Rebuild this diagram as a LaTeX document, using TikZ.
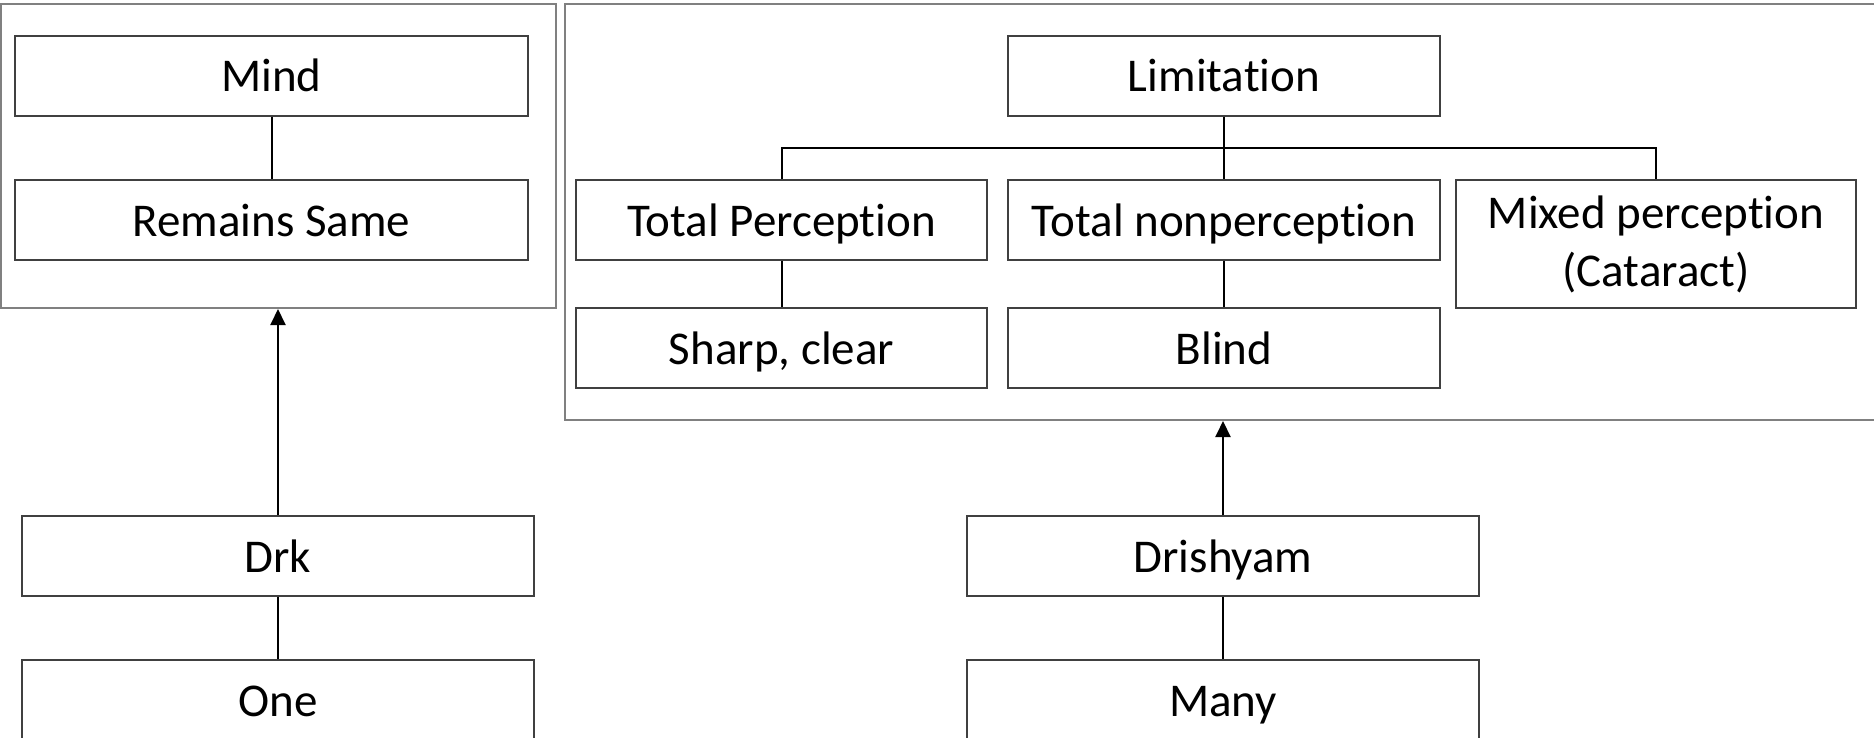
\documentclass[tikz,border=0pt]{standalone}
\usepackage{fontspec}
\setmainfont{Carlito}[Ligatures=NoCommon]
\usetikzlibrary{arrows.meta}

\begin{document}
\begin{tikzpicture}[x=0.5pt, y=-0.5pt,
    box/.style={draw=black!75, line width=0.75pt, minimum height=40pt, inner sep=2pt,
        align=center, font=\fontsize{23.5}{29}\selectfont},
    oneline/.style={box, text height=16pt, text depth=0pt},
    frame/.style={draw=black!50, line width=1pt, inner sep=0pt},
    link/.style={line width=1pt},
    up/.style={link, -{Triangle[length=8pt,width=7.5pt]}}]
    \useasboundingbox (0,0) rectangle (1874,738);
    % the two groups
    \node[frame, minimum width=277.5pt, minimum height=152pt] (leftframe) at (278.5,156) {};
    \node[frame, minimum width=717.5pt, minimum height=208pt] (rightframe) at (1282.5,212) {};
    % left side
    \node[oneline, minimum width=256.5pt] (mind) at (271.5,76) {Mind};
    \node[oneline, minimum width=256.5pt] (same) at (271.5,220) {Remains Same};
    \node[oneline, minimum width=256pt] (drk) at (278,556) {Drk};
    \node[oneline, minimum width=256pt] (one) at (278,700) {One};
    % right side
    \node[oneline, minimum width=216pt] (limit) at (1224,76) {Limitation};
    \node[oneline, minimum width=205.5pt] (totalp) at (781.5,220) {Total Perception};
    \node[oneline, minimum width=216pt] (totaln) at (1224,220) {Total nonperception};
    \node[box, minimum width=200pt, minimum height=64pt] (mixed) at (1656,244) {Mixed perception\\(Cataract)};
    \node[oneline, minimum width=205.5pt] (sharp) at (781.5,348) {Sharp, clear};
    \node[oneline, minimum width=216pt] (blind) at (1224,348) {Blind};
    \node[oneline, minimum width=256pt] (drishyam) at (1223,556) {Drishyam};
    \node[oneline, minimum width=256pt] (many) at (1223,700) {Many};
    \coordinate (bus) at (1224,148);
    % connectors
    \draw[link] (mind) -- (same);
    \draw[link] (drk) -- (one);
    \draw[link] (drishyam) -- (many);
    \draw[link] (limit) -- (totaln);
    \draw[link] (totalp.north) |- (bus) -| (mixed.north);
    \draw[link] (totalp) -- (sharp);
    \draw[link] (totaln) -- (blind);
    \draw[up] (drk.north) -- (drk.north |- leftframe.south);
    \draw[up] (drishyam.north) -- (drishyam.north |- rightframe.south);
\end{tikzpicture}
\end{document}
